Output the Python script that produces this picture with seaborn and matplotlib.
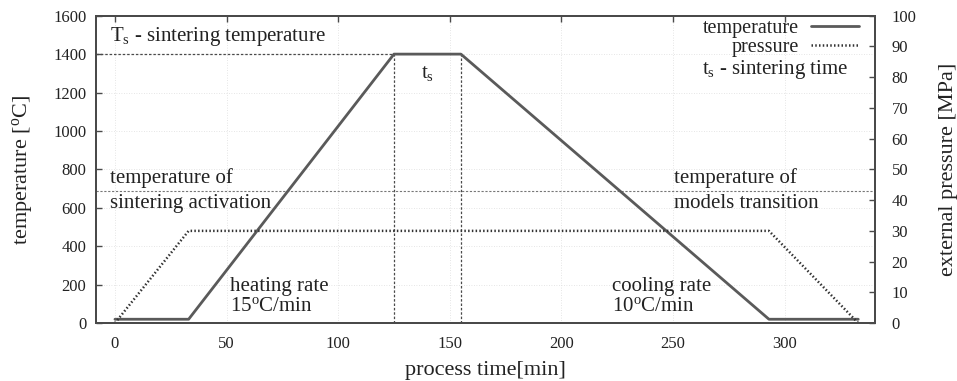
import matplotlib
matplotlib.use("Agg")
import matplotlib.pyplot as plt
import seaborn as sns
import pandas as pd

# Sintering cycle: temperature program and applied pressure
temp_time = [0, 33, 125, 155, 293, 333]          # min
temperature = [20, 20, 1400, 1400, 20, 20]         # degC
press_time = [0, 33, 293, 333]                     # min
pressure = [0, 30, 30, 0]                          # MPa

sinter_temp = 1400
sinter_start, sinter_end = 125, 155
activation_temp = 690

x_ticks = [0, 50, 100, 150, 200, 250, 300]
t_ticks = [0, 200, 400, 600, 800, 1000, 1200, 1400, 1600]
p_ticks = [0, 10, 20, 30, 40, 50, 60, 70, 80, 90, 100]

sns.set_theme(style="white")
plt.rcParams["font.family"] = ["Liberation Serif", "DejaVu Serif"]
plt.rcParams["mathtext.fontset"] = "custom"
plt.rcParams["mathtext.rm"] = "Liberation Serif"
plt.rcParams["mathtext.it"] = "Liberation Serif:italic"

dark = "#4a4a4a"
line_col = "#5a5a5a"
ink = "#222222"

fig = plt.figure(figsize=(9.57, 3.81), dpi=100)
ax = fig.add_axes([0.1003, 0.152, 0.8140, 0.8068])
ax2 = ax.twinx()

df_t = pd.DataFrame({"time": temp_time, "value": temperature})
df_p = pd.DataFrame({"time": press_time, "value": pressure})

# reference lines: sintering temperature, sintering time window, activation level
ref = dict(color=dark, lw=0.9, ls=(0, (2, 1.5)))
ax.plot([-8.5, sinter_start], [sinter_temp, sinter_temp], **ref)
ax.plot([sinter_start, sinter_start], [0, sinter_temp], **ref)
ax.plot([sinter_end, sinter_end], [0, sinter_temp], **ref)
ax.axhline(activation_temp, color="#777777", lw=0.8, ls=(0, (2, 1.5)))

sns.lineplot(data=df_t, x="time", y="value", ax=ax, color=line_col, lw=2.0,
             label="temperature", legend=False)
sns.lineplot(data=df_p, x="time", y="value", ax=ax2, color="#333333", lw=1.8,
             ls=(0, (0.6, 0.9)), label="pressure", legend=False)

ax.set_xlim(-8.5, 340.5)
ax.set_ylim(0, 1600)
ax2.set_ylim(0, 100)
ax.set_xticks(x_ticks)
ax.set_yticks(t_ticks)
ax2.set_yticks(p_ticks)

ax.grid(True, color="#dddddd", lw=0.6, ls=(0, (1, 2)))
for a in (ax, ax2):
    for s in a.spines.values():
        s.set_color(dark)
        s.set_linewidth(1.4)

ax.tick_params(axis="x", direction="in", length=4, width=1, color=dark, top=True,
               labelsize=12, pad=9, labelcolor=ink)
ax.tick_params(axis="y", direction="in", length=4, width=1, color=dark,
               labelsize=12, pad=7, labelcolor=ink)
ax2.tick_params(axis="y", direction="in", length=4, width=1, color=dark,
                labelsize=12, pad=12, labelcolor=ink)

ax.set_xlabel("process time[min]", fontsize=16, color=ink, labelpad=7)
ax.set_ylabel(r"temperature [$^{\rm o}$C]", fontsize=16, color=ink, labelpad=13)
ax2.set_ylabel("external pressure [MPa]", fontsize=16, color=ink, labelpad=16)

txt = dict(fontsize=15, color=ink, va="center")
ax.text(-2, 1490, r"T$_{\rm s}$ - sintering temperature", **txt)
ax.text(140, 1300, r"t$_{\rm s}$", ha="center", **txt)
ax.text(-2, 755, "temperature of", **txt)
ax.text(-2, 622, "sintering activation", **txt)
ax.text(250.5, 755, "temperature of", **txt)
ax.text(250.5, 622, "models transition", **txt)
ax.text(51.5, 193, "heating rate", **txt)
ax.text(51.5, 85, r"15$^{\rm o}$C/min", **txt)
ax.text(222.5, 193, "cooling rate", **txt)
ax.text(222.5, 85, r"10$^{\rm o}$C/min", **txt)

h1, l1 = ax.get_legend_handles_labels()
h2, l2 = ax2.get_legend_handles_labels()
leg = ax2.legend(h1 + h2, l1 + l2, loc="upper right", frameon=False, markerfirst=False,
                 fontsize=14.5, handlelength=2.4, handletextpad=0.6, labelspacing=0.0,
                 borderaxespad=0.2, bbox_to_anchor=(0.995, 1.03))
for t in leg.get_texts():
    t.set_color(ink)
ax2.text(328.5, 1320 / 16, r"t$_{\rm s}$ - sintering time", ha="right", **txt)

fig.savefig("out.png", dpi=100)
